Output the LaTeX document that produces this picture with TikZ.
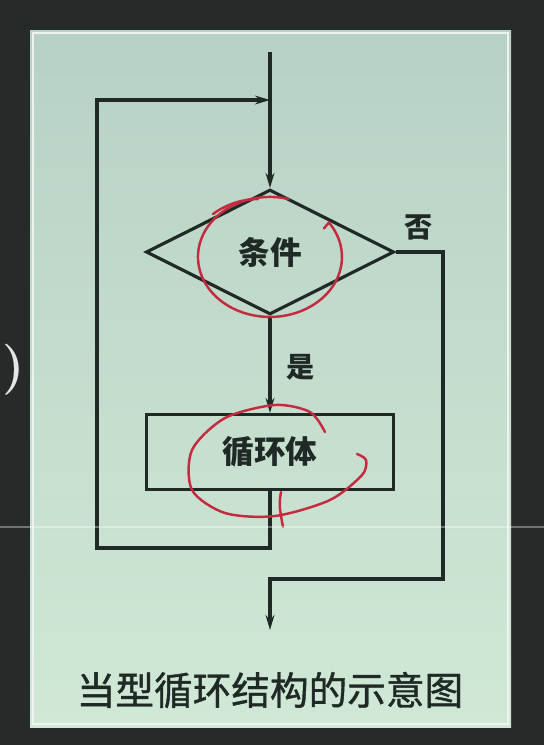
\documentclass[tikz,border=0pt]{standalone}
\usepackage{fontspec}
\newfontfamily\cjk{Noto Sans CJK SC}
\newfontfamily\cjkcap[FakeBold=1]{Noto Sans CJK SC}
\usetikzlibrary{arrows.meta,shapes.geometric}
\definecolor{screen}{HTML}{262B2A}
\definecolor{paneltop}{HTML}{B7D1C5}
\definecolor{panelbot}{HTML}{D0E8D5}
\definecolor{ink}{HTML}{1F2925}
\definecolor{pen}{HTML}{C42A40}

\begin{document}
\begin{tikzpicture}[x=0.02cm, y=-0.02cm, >={Stealth[length=8.5pt,width=5pt]},
  flow/.style={draw=ink, line width=1.8pt},
  box/.style={flow, inner sep=0pt, text=ink, font=\cjk\bfseries\fontsize{18}{18}\selectfont},
  lbl/.style={inner sep=0pt, text=ink, font=\cjk\bfseries\fontsize{16}{16}\selectfont},
  penmark/.style={draw=pen, line width=1.4pt, line cap=round}]
  % screen and panel
  \useasboundingbox[fill=screen] (0,0) rectangle (544,745);
  \shade[top color=paneltop, bottom color=panelbot] (30,30) rectangle (511,727);
  \draw[white!75!paneltop, line width=0.8pt] (33,33) rectangle (508,724);
  \node[inner sep=0pt, text=white!90!black, font=\fontsize{29}{29}\selectfont\bfseries] (paren) at (14,370) {)};

  \node[box, diamond, aspect=2, minimum width=4.96cm, minimum height=2.5cm] (cond) at (270,252) {条件};
  \node[box, rectangle, minimum width=4.94cm, minimum height=1.5cm] (body) at (270,452) {循环体};
  \node[lbl] (yes) at (301,367) {是};
  \node[lbl] (no) at (419,227) {否};
  \node[inner sep=0pt, text=ink, font=\cjkcap\fontsize{22}{22}\selectfont] (title) at (270,690) {当型循环结构的示意图};

  \coordinate (start) at (270,52);
  \coordinate (back) at (270,100);
  \coordinate (loopbl) at (97,548);
  \coordinate (exitr) at (443,579);
  \coordinate (exit) at (270,630);

  \draw[flow,->] (start) -- (cond.north);
  \draw[flow,->] (cond.south) -- (body.north);
  \draw[flow,->] (body.south) |- (loopbl) |- (back);
  \draw[flow,->] (cond.east) -| (exitr) -| (exit);

  % red pen marks
  \draw[penmark] (288.6,199) arc[start angle=75, end angle=395, x radius=1.44cm, y radius=1.2cm] -- ++(-5,6);
  \draw[penmark] (213,214) .. controls (228,203) and (245,199) .. (258,199);
  \draw[penmark] plot[smooth] coordinates {(325,432) (310,412) (275,405) (225,418) (192,450) (192,490) (225,513) (275,516) (330,500) (362,475) (366,460) (357,454)};
  \draw[penmark] (281,492) .. controls (279,505) .. (283,527);

  % screen artefact
  \draw[white, opacity=0.35, line width=0.6pt] (0,527) -- (544,527);
\end{tikzpicture}
\end{document}
